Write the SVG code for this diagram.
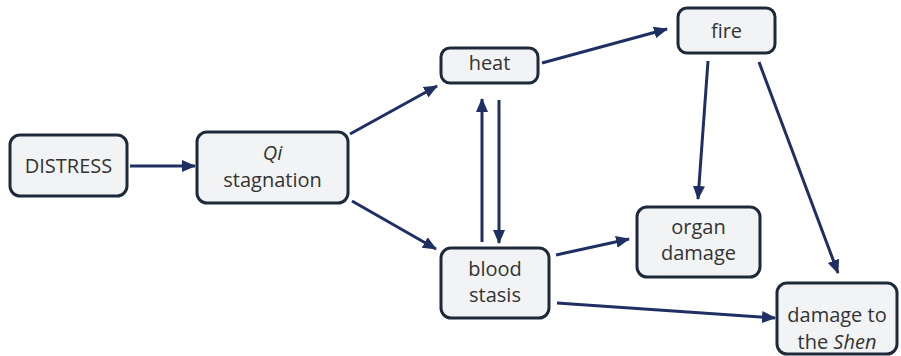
<svg xmlns="http://www.w3.org/2000/svg" width="901" height="356" viewBox="0 0 901 356">
<defs>
<marker id="ah" markerUnits="userSpaceOnUse" markerWidth="14" markerHeight="14" viewBox="0 0 14 14" refX="13" refY="7" orient="auto">
<path d="M0,1 L14,7 L0,13 Z" fill="#1f2f63"/>
</marker>
<style>
.box{fill:#f2f3f5;stroke:#1e2a3a;stroke-width:3}
.t{font-family:"Open Sans","Noto Sans","Liberation Sans",sans-serif;font-size:20px;fill:#333333;text-anchor:middle}
.c line{stroke:#1f2f63;stroke-width:3;marker-end:url(#ah)}
</style>
</defs>
<rect width="901" height="356" fill="#ffffff"/>
<g class="c" id="connectors">
<line x1="130" y1="166" x2="195" y2="166"/>
<line x1="350" y1="134" x2="437" y2="86"/>
<line x1="352" y1="201" x2="436" y2="249"/>
<line x1="482" y1="242" x2="482" y2="99"/>
<line x1="499" y1="100" x2="499" y2="243"/>
<line x1="542" y1="63" x2="667" y2="29"/>
<line x1="708" y1="61" x2="698" y2="199"/>
<line x1="759" y1="62" x2="838" y2="273"/>
<line x1="556" y1="255" x2="629" y2="239"/>
<line x1="557" y1="303" x2="775" y2="318"/>
</g>
<g id="distress"><rect class="box" x="10" y="135" width="117" height="61" rx="10"/><text class="t" x="68.5" y="173">DISTRESS</text></g>
<g id="qi"><rect class="box" x="197" y="132" width="151" height="71" rx="10"/><text class="t" x="272.5" y="160"><tspan font-style="italic">Qi</tspan></text><text class="t" x="272.5" y="187">stagnation</text></g>
<g id="heat"><rect class="box" x="441" y="48" width="97" height="35" rx="9"/><text class="t" x="489.5" y="70">heat</text></g>
<g id="blood"><rect class="box" x="441" y="248" width="108" height="70" rx="10"/><text class="t" x="495" y="276">blood</text><text class="t" x="495" y="302">stasis</text></g>
<g id="fire"><rect class="box" x="678" y="8" width="97" height="45" rx="9"/><text class="t" x="726.5" y="38">fire</text></g>
<g id="organ"><rect class="box" x="637" y="207" width="123" height="70" rx="10"/><text class="t" x="698.5" y="234">organ</text><text class="t" x="698.5" y="260">damage</text></g>
<g id="shen"><rect class="box" x="777" y="283" width="120" height="71" rx="10"/><text class="t" x="837" y="322">damage to</text><text class="t" x="837" y="349">the <tspan font-style="italic">Shen</tspan></text></g>
</svg>
